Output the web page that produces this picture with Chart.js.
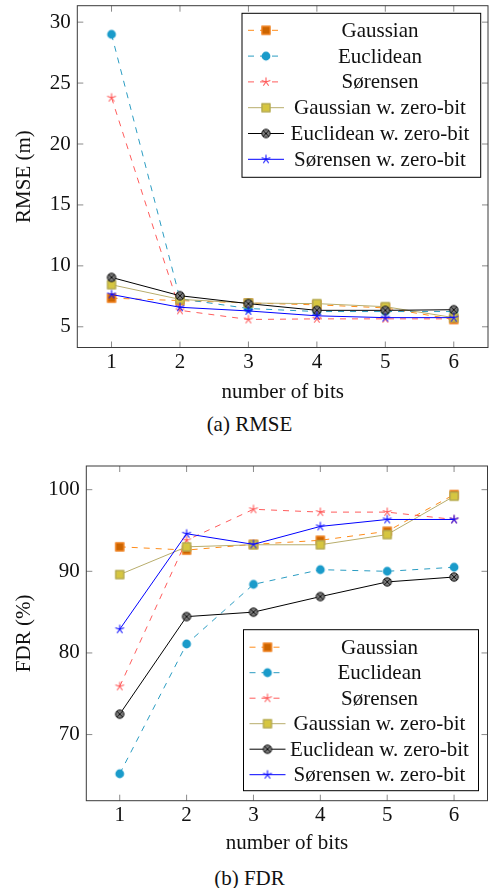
<!DOCTYPE html>
<html>
<head>
<meta charset="utf-8">
<script src="https://cdn.jsdelivr.net/npm/chart.js@4.4.1/dist/chart.umd.min.js"></script>
<style>
  body { margin: 0; background: #fff; width: 493px; height: 888px; position: relative; overflow: hidden; font-family: "Liberation Serif", serif; }
  .plot { position: absolute; left: 0; }
  .cap { position: absolute; left: 3px; width: 493px; text-align: center; font-size: 21px; line-height: 25px; color: #111; }
</style>
</head>
<body>
<div class="plot" style="top:0"><canvas id="rmse" width="493" height="405"></canvas></div>
<div class="cap" style="top:412px">(a) RMSE</div>
<div class="plot" style="top:460px"><canvas id="fdr" width="493" height="400"></canvas></div>
<div class="cap" style="top:866px">(b) FDR</div>

<script>
// ---- data ----
const bits = [1, 2, 3, 4, 5, 6];
const seriesNames = ['Gaussian', 'Euclidean', 'Sørensen',
  'Gaussian w. zero-bit', 'Euclidean w. zero-bit', 'Sørensen w. zero-bit'];

const rmseGaussian    = [7.35, 7.15, 6.95, 6.8, 6.55, 5.6];
const rmseEuclidean   = [29.0, 7.3, 6.5, 6.25, 6.25, 6.25];
const rmseSorensen    = [23.8, 6.35, 5.6, 5.65, 5.65, 5.65];
const rmseGaussianZb  = [8.45, 7.25, 6.95, 6.9, 6.65, 5.75];
const rmseEuclideanZb = [9.05, 7.55, 6.9, 6.35, 6.35, 6.4];
const rmseSorensenZb  = [7.65, 6.6, 6.3, 5.9, 5.75, 5.75];
const rmseTicks = [5, 10, 15, 20, 25, 30];

const fdrGaussian    = [93.0, 92.6, 93.3, 93.8, 94.9, 99.4];
const fdrEuclidean   = [65.2, 81.1, 88.4, 90.2, 90.0, 90.5];
const fdrSorensen    = [75.9, 93.8, 97.6, 97.25, 97.25, 96.35];
const fdrGaussianZb  = [89.6, 93.0, 93.25, 93.25, 94.5, 99.2];
const fdrEuclideanZb = [72.5, 84.45, 85.0, 86.9, 88.7, 89.3];
const fdrSorensenZb  = [82.9, 94.6, 93.3, 95.5, 96.35, 96.35];
const fdrTicks = [70, 80, 90, 100];

const SERIF = '"Liberation Serif", "Times New Roman", serif';
const INK = '#111';

// ---- marker images (pgfplots-like marks) ----
function mark(kind, fill, stroke) {
  const c = document.createElement('canvas');
  c.width = 14; c.height = 14;
  const g = c.getContext('2d');
  const m = 7;
  g.lineWidth = 1;
  g.fillStyle = fill;
  g.strokeStyle = stroke;
  if (kind === 'square') {
    g.fillRect(2.5, 2.5, 9, 9);
    g.strokeRect(3, 3, 8, 8);
  } else if (kind === 'circle') {
    g.beginPath(); g.arc(m, m, 4.4, 0, Math.PI * 2); g.fill();
  } else if (kind === 'star') {
    g.lineWidth = 1.1;
    g.beginPath();
    for (let k = 0; k < 5; k++) {
      const a = -Math.PI / 2 + k * 2 * Math.PI / 5;
      g.moveTo(m, m);
      g.lineTo(m + 4.6 * Math.cos(a), m + 4.6 * Math.sin(a));
    }
    g.stroke();
  } else if (kind === 'otimes') {
    g.beginPath(); g.arc(m, m, 4.2, 0, Math.PI * 2); g.fill(); g.stroke();
    const d = 4.2 * Math.SQRT1_2;
    g.beginPath();
    g.moveTo(m - d, m - d); g.lineTo(m + d, m + d);
    g.moveTo(m + d, m - d); g.lineTo(m - d, m + d);
    g.stroke();
  }
  return c;
}

const styles = [
  { line: '#ff8c1a', dash: [6, 6], point: mark('square', '#cc6400', '#ff8c28') },
  { line: '#2a9cc2', dash: [6, 6], point: mark('circle', '#1a9bca', '#1a9bca') },
  { line: '#ff5c5c', dash: [6, 6], point: mark('star', '#ff5a5a', '#ff5a5a') },
  { line: '#b8ad6c', dash: [],     point: mark('square', '#d6c640', '#a89f58') },
  { line: '#000000', dash: [],     point: mark('otimes', '#7c7c7c', '#111111') },
  { line: '#0000ff', dash: [],     point: mark('star', '#1010ff', '#1010ff') }
];

function makeDatasets(seriesList) {
  return seriesList.map((vals, i) => ({
    label: seriesNames[i],
    data: bits.map((b, j) => ({ x: b, y: vals[j] })),
    borderColor: styles[i].line,
    borderWidth: 1,
    borderDash: styles[i].dash,
    pointStyle: styles[i].point,
    pointRadius: 4,
    tension: 0,
    fill: false,
    order: seriesList.length - i   // later series drawn on top
  }));
}

// frame around plot area with short inward tick marks on all four sides
const framePlugin = {
  id: 'frame',
  beforeDatasetsDraw(chart) {
    const { ctx, chartArea: a, scales: { x, y } } = chart;
    const tl = 6;
    ctx.save();
    ctx.strokeStyle = '#8a8a8a';
    ctx.lineWidth = 1;
    ctx.beginPath();
    x.ticks.forEach(t => {
      const px = x.getPixelForValue(t.value);
      ctx.moveTo(px, a.bottom); ctx.lineTo(px, a.bottom - tl);
      ctx.moveTo(px, a.top); ctx.lineTo(px, a.top + tl);
    });
    y.ticks.forEach(t => {
      const py = y.getPixelForValue(t.value);
      ctx.moveTo(a.left, py); ctx.lineTo(a.left + tl, py);
      ctx.moveTo(a.right, py); ctx.lineTo(a.right - tl, py);
    });
    ctx.stroke();
    ctx.strokeStyle = '#3a3a3a';
    ctx.strokeRect(a.left, a.top, a.right - a.left, a.bottom - a.top);
    ctx.restore();
  }
};

// boxed legend: short line sample with the mark in its middle, centred label
const boxLegend = {
  id: 'boxLegend',
  afterDraw(chart, args, opts) {
    const { ctx, chartArea: a } = chart;
    const w = opts.width, h = opts.height;
    const x0 = a.right - opts.right - w;
    const y0 = opts.top != null ? a.top + opts.top : a.bottom - opts.bottom - h;
    ctx.save();
    ctx.fillStyle = '#fff';
    ctx.fillRect(x0, y0, w, h);
    ctx.strokeStyle = '#000';
    ctx.lineWidth = 1;
    ctx.strokeRect(x0, y0, w, h);
    ctx.font = '21px ' + SERIF;
    ctx.textAlign = 'center';
    ctx.textBaseline = 'middle';
    chart.data.datasets.forEach((ds, i) => {
      const ry = y0 + opts.first + i * opts.step;
      ctx.strokeStyle = ds.borderColor;
      ctx.lineWidth = ds.borderWidth;
      ctx.setLineDash(ds.borderDash);
      ctx.beginPath();
      ctx.moveTo(x0 + 6, ry); ctx.lineTo(x0 + 42, ry);
      ctx.stroke();
      ctx.setLineDash([]);
      const img = ds.pointStyle;
      ctx.drawImage(img, x0 + 24 - img.width / 2, ry - img.height / 2);
      ctx.fillStyle = INK;
      ctx.fillText(ds.label, x0 + opts.textX, ry + 1);
    });
    ctx.restore();
  }
};

function makeChart(id, cfg) {
  return new Chart(document.getElementById(id), {
    type: 'line',
    data: { datasets: makeDatasets(cfg.series) },
    options: {
      responsive: false,
      animation: false,
      events: [],
      layout: { padding: cfg.padding },
      plugins: {
        legend: { display: false },
        tooltip: { enabled: false },
        boxLegend: cfg.legend
      },
      scales: {
        x: {
          type: 'linear',
          min: 0.5, max: 6.5,
          grid: { display: false, drawTicks: false },
          border: { display: false },
          afterBuildTicks: s => { s.ticks = bits.map(v => ({ value: v })); },
          afterFit: s => { s.height = cfg.xHeight; s.paddingLeft = 0; s.paddingRight = 0; },
          ticks: { padding: cfg.xTickPad, color: INK, font: { family: SERIF, size: 21 }, maxRotation: 0 },
          title: { display: true, text: 'number of bits', color: INK,
                   font: { family: SERIF, size: 21 }, padding: { top: 0, bottom: cfg.xTitlePad } }
        },
        y: {
          type: 'linear',
          min: cfg.yMin, max: cfg.yMax,
          grid: { display: false, drawTicks: false },
          border: { display: false },
          afterBuildTicks: s => { s.ticks = cfg.yTicks.map(v => ({ value: v })); },
          afterFit: s => { s.width = cfg.yWidth; s.paddingTop = 0; s.paddingBottom = 0; },
          ticks: { padding: 6.5, color: INK, font: { family: SERIF, size: 21 } },
          title: { display: true, text: cfg.yTitle, color: INK,
                   font: { family: SERIF, size: 21 }, padding: { top: 11.4, bottom: 0 } }
        }
      }
    },
    plugins: [framePlugin, boxLegend]
  });
}

makeChart('rmse', {
  series: [rmseGaussian, rmseEuclidean, rmseSorensen, rmseGaussianZb, rmseEuclideanZb, rmseSorensenZb],
  yTicks: rmseTicks, yMin: 3.3, yMax: 31.35, yTitle: 'RMSE (m)',
  padding: { top: 5.7, right: 5, bottom: 0, left: 0 },
  yWidth: 77.3, xHeight: 57.5, xTickPad: 2.6, xTitlePad: 0.4,
  legend: { width: 238.7, height: 164, right: 7.3, top: 7.6, first: 17, step: 25.8, textX: 138 }
});

makeChart('fdr', {
  series: [fdrGaussian, fdrEuclidean, fdrSorensen, fdrGaussianZb, fdrEuclideanZb, fdrSorensenZb],
  yTicks: fdrTicks, yMin: 61.9, yMax: 102.9, yTitle: 'FDR (%)',
  padding: { top: 6, right: 5.5, bottom: 0, left: 0 },
  yWidth: 86.3, xHeight: 59.3, xTickPad: 1.7, xTitlePad: 4.4,
  legend: { width: 235, height: 161, right: 9, bottom: 10, first: 17.5, step: 25.5, textX: 136 }
});
</script>
</body>
</html>
